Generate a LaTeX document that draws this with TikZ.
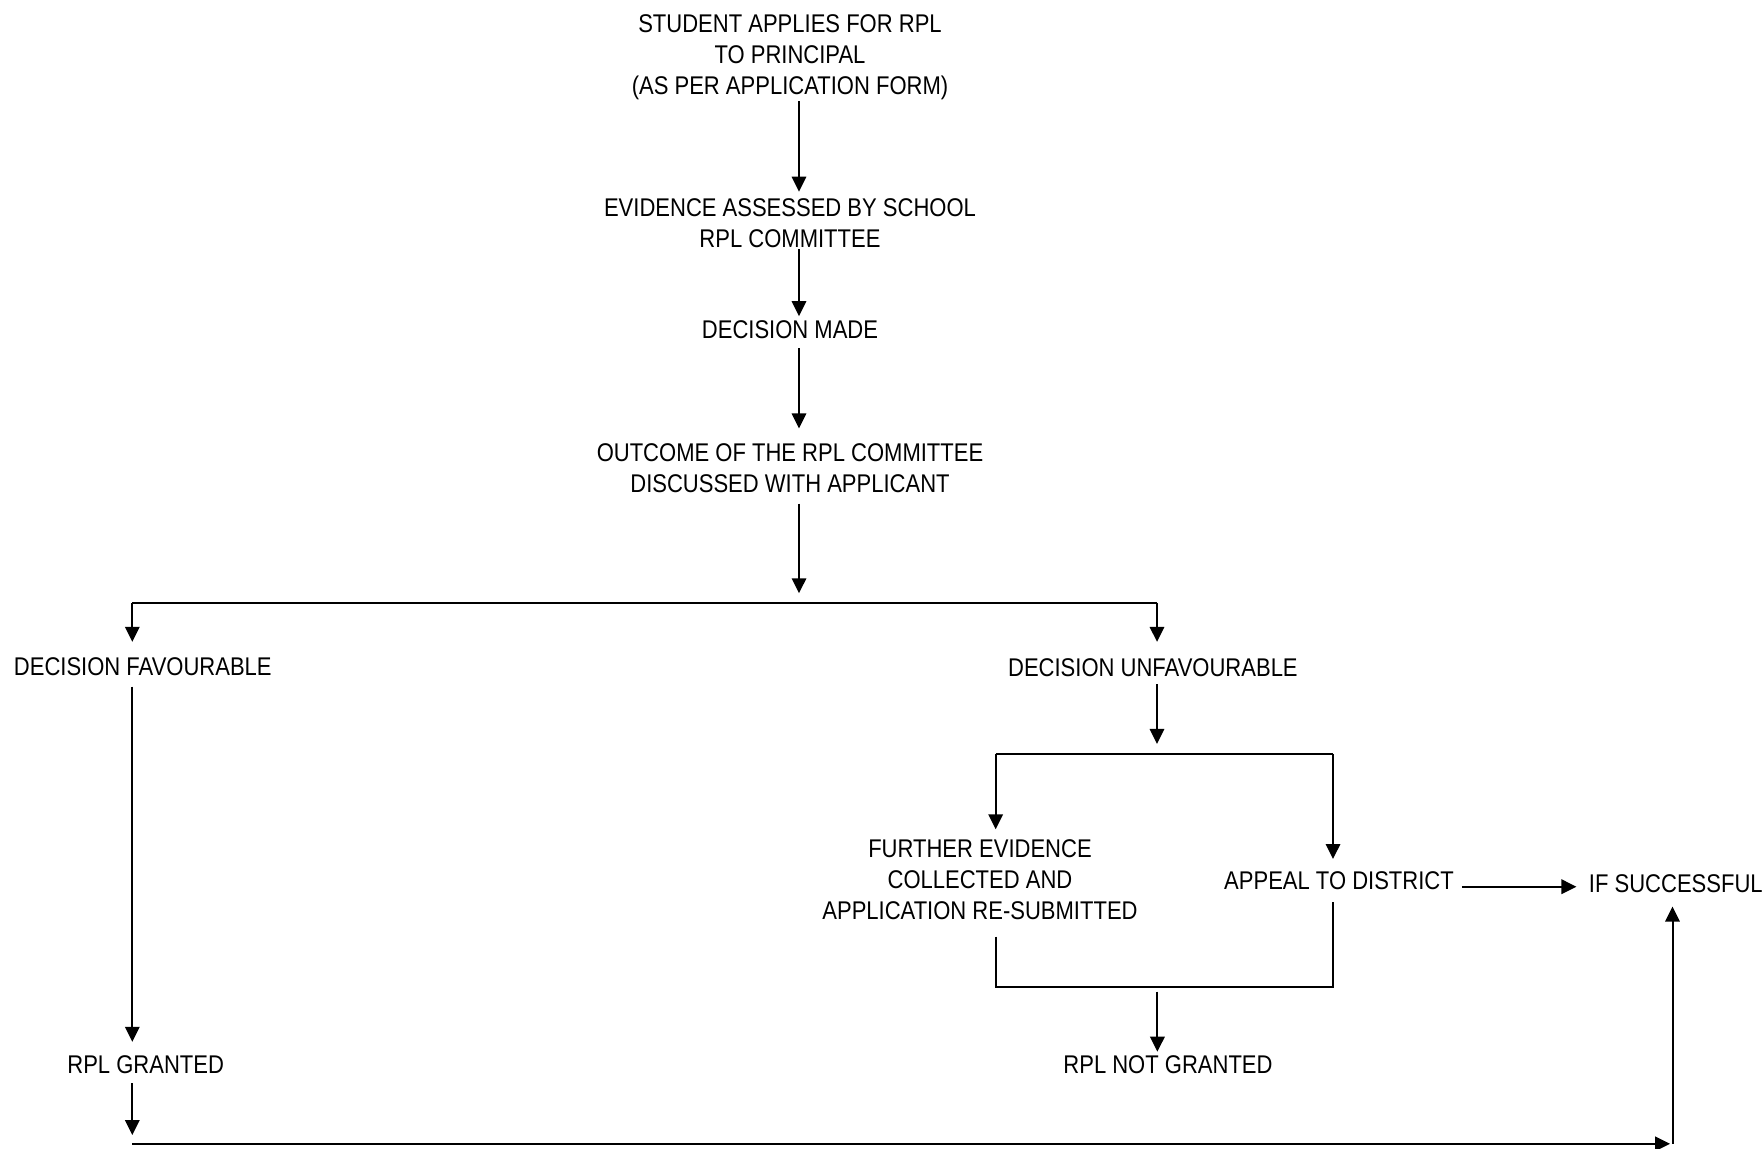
\documentclass[tikz,border=0pt]{standalone}
\usepackage{fontspec}
\setmainfont[FakeStretch=0.86]{Liberation Sans}
\usetikzlibrary{arrows.meta}
\begin{document}
\begin{tikzpicture}[x=0.5pt,y=-0.5pt, line width=1pt,
  lbl/.style={inner sep=0pt, outer sep=0pt, align=center, font=\fontsize{12.8}{15.4}\selectfont},
  arr/.style={-{Triangle[length=7.5pt,width=7.2pt]}}]
\useasboundingbox (0,0) rectangle (1763,1149);
% nodes
\node[lbl, anchor=north] (n1) at (790,15) {STUDENT APPLIES FOR RPL\\TO PRINCIPAL\\(AS PER APPLICATION FORM)};
\node[lbl, anchor=north] (n2) at (790,199) {EVIDENCE ASSESSED BY SCHOOL\\RPL COMMITTEE};
\node[lbl] (n3) at (790,329.8) {DECISION MADE};
\node[lbl, anchor=north] (n4) at (790,443.8) {OUTCOME OF THE RPL COMMITTEE\\DISCUSSED WITH APPLICANT};
\node[lbl] (fav) at (142.8,666.8) {DECISION FAVOURABLE};
\node[lbl] (unfav) at (1152.9,667.5) {DECISION UNFAVOURABLE};
\node[lbl, anchor=north] (further) at (980,840) {FURTHER EVIDENCE\\COLLECTED AND\\APPLICATION RE-SUBMITTED};
\node[lbl] (appeal) at (1339,880.5) {APPEAL TO DISTRICT};
\node[lbl] (success) at (1675.8,883.8) {IF SUCCESSFUL};
\node[lbl] (granted) at (145.7,1064.5) {RPL GRANTED};
\node[lbl] (notgr) at (1168,1065) {RPL NOT GRANTED};
% coordinates
\coordinate (spine) at (799,0);
\coordinate (j0) at (799,593.3);
\coordinate (L0) at (132.3,602.7);
\coordinate (R0) at (1157,602.7);
\coordinate (u0) at (1157,744);
\coordinate (FL) at (995.7,754);
\coordinate (FR) at (1333,754);
\coordinate (BL) at (995.7,986.7);
\coordinate (BR) at (1333,986.7);
\coordinate (m0) at (1157.4,991.7);
\coordinate (g0) at (132.3,1135);
\coordinate (B0) at (132.3,1143.8);
\coordinate (B1) at (1670,1143.8);
\coordinate (B2) at (1672.5,1143.8);
\coordinate (a0) at (0,886.7);
% connectors
\draw[arr, shorten <=0.65pt, shorten >=3.65pt] (n1.south -| spine) -- (n2.north -| spine);
\draw[arr, shorten <=0.6pt, shorten >=2.3pt] (n2.south -| spine) -- (n3.north -| spine);
\draw[arr, shorten <=4.65pt, shorten >=7.7pt] (n3.south -| spine) -- (n4.north -| spine);
\draw[arr, shorten <=5.4pt] (n4.south -| spine) -- (j0);
\draw (L0) -- (R0);
\draw[arr, shorten >=7.95pt] (L0) -- (fav.north -| L0);
\draw[arr, shorten >=8.3pt] (R0) -- (unfav.north -| R0);
\draw[arr, shorten <=5.35pt, shorten >=6.8pt] (fav.south -| L0) -- (granted.north -| L0);
\draw[arr, shorten <=4.8pt] (granted.south -| L0) -- (g0);
\draw[arr] (B0) -- (B1);
\draw[arr, shorten >=6.85pt] (B2) -- (success.south -| B2);
\draw[arr, shorten <=3.85pt] (unfav.south -| R0) -- (u0);
\draw (FL) -- (FR);
\draw[arr, shorten >=5.35pt] (FL) -- (further.north -| FL);
\draw[arr, shorten >=6.2pt] (FR) -- (appeal.north -| FR);
\draw[shorten <=8.4pt, shorten >=6.3pt] (further.south -| BL) -- (BL) -- (BR) -- (appeal.south -| BR);
\draw[arr, shorten >=2.1pt] (m0) -- (notgr.north -| m0);
\draw[arr, shorten <=4pt, shorten >=6.25pt] (appeal.east |- a0) -- (success.west |- a0);
\end{tikzpicture}
\end{document}
